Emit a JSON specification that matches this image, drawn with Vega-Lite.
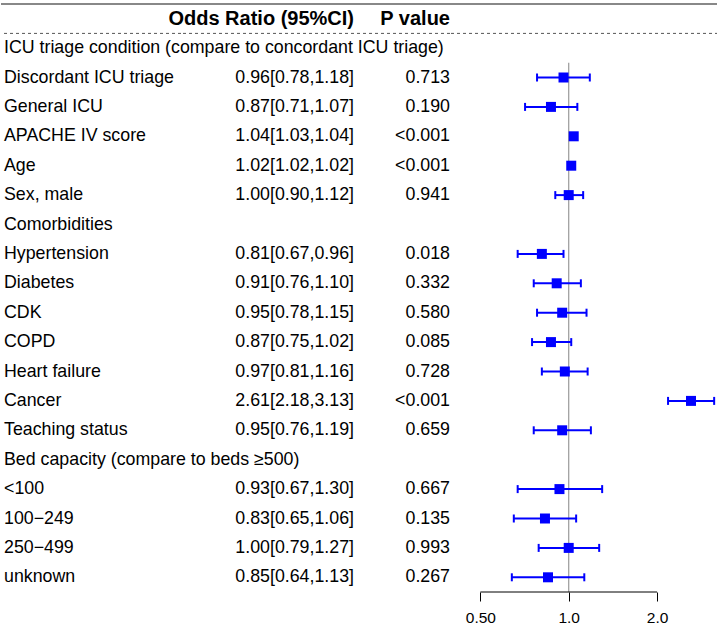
{
  "$schema": "https://vega.github.io/schema/vega-lite/v6.json",
  "padding": {"left": 0, "top": 3, "right": 0, "bottom": 0},
  "spacing": 0,
  "bounds": "flush",
  "config": {
    "view": {"stroke": null},
    "font": "Liberation Sans",
    "axisX": {"domain": false, "grid": false, "ticks": true, "tickSize": 9, "tickColor": "black", "tickWidth": 1, "labelFontSize": 15.5, "labelFont": "Liberation Sans", "labelColor": "black", "labelPadding": 9, "labelFlush": false, "labelExpr": "datum.value == 0.5 ? '0.50' : format(datum.value, '.1f')"}
  },
  "datasets": {
    "rows": [
      {"label": "ICU triage condition (compare to concordant ICU triage)", "or": null, "lo": null, "hi": null, "ci": "", "p": ""},
      {"label": "Discordant ICU triage", "or": 0.96, "lo": 0.78, "hi": 1.18, "ci": "0.96[0.78,1.18]", "p": "0.713"},
      {"label": "General ICU", "or": 0.87, "lo": 0.71, "hi": 1.07, "ci": "0.87[0.71,1.07]", "p": "0.190"},
      {"label": "APACHE IV score", "or": 1.04, "lo": 1.03, "hi": 1.04, "ci": "1.04[1.03,1.04]", "p": "<0.001"},
      {"label": "Age", "or": 1.02, "lo": 1.02, "hi": 1.02, "ci": "1.02[1.02,1.02]", "p": "<0.001"},
      {"label": "Sex, male", "or": 1.00, "lo": 0.90, "hi": 1.12, "ci": "1.00[0.90,1.12]", "p": "0.941"},
      {"label": "Comorbidities", "or": null, "lo": null, "hi": null, "ci": "", "p": ""},
      {"label": "Hypertension", "or": 0.81, "lo": 0.67, "hi": 0.96, "ci": "0.81[0.67,0.96]", "p": "0.018"},
      {"label": "Diabetes", "or": 0.91, "lo": 0.76, "hi": 1.10, "ci": "0.91[0.76,1.10]", "p": "0.332"},
      {"label": "CDK", "or": 0.95, "lo": 0.78, "hi": 1.15, "ci": "0.95[0.78,1.15]", "p": "0.580"},
      {"label": "COPD", "or": 0.87, "lo": 0.75, "hi": 1.02, "ci": "0.87[0.75,1.02]", "p": "0.085"},
      {"label": "Heart failure", "or": 0.97, "lo": 0.81, "hi": 1.16, "ci": "0.97[0.81,1.16]", "p": "0.728"},
      {"label": "Cancer", "or": 2.61, "lo": 2.18, "hi": 3.13, "ci": "2.61[2.18,3.13]", "p": "<0.001"},
      {"label": "Teaching status", "or": 0.95, "lo": 0.76, "hi": 1.19, "ci": "0.95[0.76,1.19]", "p": "0.659"},
      {"label": "Bed capacity (compare to beds ≥500)", "or": null, "lo": null, "hi": null, "ci": "", "p": ""},
      {"label": "<100", "or": 0.93, "lo": 0.67, "hi": 1.30, "ci": "0.93[0.67,1.30]", "p": "0.667"},
      {"label": "100−249", "or": 0.83, "lo": 0.65, "hi": 1.06, "ci": "0.83[0.65,1.06]", "p": "0.135"},
      {"label": "250−499", "or": 1.00, "lo": 0.79, "hi": 1.27, "ci": "1.00[0.79,1.27]", "p": "0.993"},
      {"label": "unknown", "or": 0.85, "lo": 0.64, "hi": 1.13, "ci": "0.85[0.64,1.13]", "p": "0.267"}
    ]
  },
  "data": {"name": "rows"},
  "hconcat": [
    {
      "width": 180, "height": 588,
      "layer": [
        {"data": {"values": [{}]}, "mark": {"type": "rule", "color": "#888888", "strokeWidth": 2},
         "encoding": {"y": {"datum": "header", "bandPosition": 0, "type": "nominal", "scale": {"type": "band", "domain": ["header", "ICU triage condition (compare to concordant ICU triage)", "Discordant ICU triage", "General ICU", "APACHE IV score", "Age", "Sex, male", "Comorbidities", "Hypertension", "Diabetes", "CDK", "COPD", "Heart failure", "Cancer", "Teaching status", "Bed capacity (compare to beds ≥500)", "<100", "100−249", "250−499", "unknown"], "paddingInner": 0, "paddingOuter": 0}, "axis": null}}},
        {"data": {"values": [{}]}, "mark": {"type": "rule", "color": "#555555", "strokeWidth": 1, "strokeDash": [3, 3]},
         "encoding": {"y": {"datum": "header", "bandPosition": 1, "type": "nominal", "scale": {"type": "band", "domain": ["header", "ICU triage condition (compare to concordant ICU triage)", "Discordant ICU triage", "General ICU", "APACHE IV score", "Age", "Sex, male", "Comorbidities", "Hypertension", "Diabetes", "CDK", "COPD", "Heart failure", "Cancer", "Teaching status", "Bed capacity (compare to beds ≥500)", "<100", "100−249", "250−499", "unknown"], "paddingInner": 0, "paddingOuter": 0}, "axis": null}}},
        {"mark": {"type": "text", "align": "left", "baseline": "middle", "fontSize": 17.8, "font": "Liberation Sans", "color": "black", "dx": 3},
         "encoding": {"x": {"value": 0}, "y": {"field": "label", "type": "nominal", "scale": {"type": "band", "domain": ["header", "ICU triage condition (compare to concordant ICU triage)", "Discordant ICU triage", "General ICU", "APACHE IV score", "Age", "Sex, male", "Comorbidities", "Hypertension", "Diabetes", "CDK", "COPD", "Heart failure", "Cancer", "Teaching status", "Bed capacity (compare to beds ≥500)", "<100", "100−249", "250−499", "unknown"], "paddingInner": 0, "paddingOuter": 0}, "axis": null}, "text": {"field": "label"}}}
      ]
    },
    {
      "width": 173, "height": 588,
      "layer": [
        {"data": {"values": [{}]}, "mark": {"type": "rule", "color": "#888888", "strokeWidth": 2},
         "encoding": {"y": {"datum": "header", "bandPosition": 0, "type": "nominal", "scale": {"type": "band", "domain": ["header", "ICU triage condition (compare to concordant ICU triage)", "Discordant ICU triage", "General ICU", "APACHE IV score", "Age", "Sex, male", "Comorbidities", "Hypertension", "Diabetes", "CDK", "COPD", "Heart failure", "Cancer", "Teaching status", "Bed capacity (compare to beds ≥500)", "<100", "100−249", "250−499", "unknown"], "paddingInner": 0, "paddingOuter": 0}, "axis": null}}},
        {"data": {"values": [{}]}, "mark": {"type": "rule", "color": "#555555", "strokeWidth": 1, "strokeDash": [3, 3]},
         "encoding": {"y": {"datum": "header", "bandPosition": 1, "type": "nominal", "scale": {"type": "band", "domain": ["header", "ICU triage condition (compare to concordant ICU triage)", "Discordant ICU triage", "General ICU", "APACHE IV score", "Age", "Sex, male", "Comorbidities", "Hypertension", "Diabetes", "CDK", "COPD", "Heart failure", "Cancer", "Teaching status", "Bed capacity (compare to beds ≥500)", "<100", "100−249", "250−499", "unknown"], "paddingInner": 0, "paddingOuter": 0}, "axis": null}}},
        {"data": {"values": [{"t": "Odds Ratio (95%CI)"}]}, "mark": {"type": "text", "align": "right", "baseline": "middle", "fontSize": 20, "fontWeight": "bold", "font": "Liberation Sans", "color": "black"},
         "encoding": {"x": {"value": 173}, "y": {"datum": "header", "type": "nominal", "scale": {"type": "band", "domain": ["header", "ICU triage condition (compare to concordant ICU triage)", "Discordant ICU triage", "General ICU", "APACHE IV score", "Age", "Sex, male", "Comorbidities", "Hypertension", "Diabetes", "CDK", "COPD", "Heart failure", "Cancer", "Teaching status", "Bed capacity (compare to beds ≥500)", "<100", "100−249", "250−499", "unknown"], "paddingInner": 0, "paddingOuter": 0}, "axis": null}, "text": {"field": "t"}}},
        {"mark": {"type": "text", "align": "right", "baseline": "middle", "fontSize": 17.8, "font": "Liberation Sans", "color": "black"},
         "encoding": {"x": {"value": 173}, "y": {"field": "label", "type": "nominal", "scale": {"type": "band", "domain": ["header", "ICU triage condition (compare to concordant ICU triage)", "Discordant ICU triage", "General ICU", "APACHE IV score", "Age", "Sex, male", "Comorbidities", "Hypertension", "Diabetes", "CDK", "COPD", "Heart failure", "Cancer", "Teaching status", "Bed capacity (compare to beds ≥500)", "<100", "100−249", "250−499", "unknown"], "paddingInner": 0, "paddingOuter": 0}, "axis": null}, "text": {"field": "ci"}}}
      ]
    },
    {
      "width": 96, "height": 588,
      "layer": [
        {"data": {"values": [{}]}, "mark": {"type": "rule", "color": "#888888", "strokeWidth": 2},
         "encoding": {"y": {"datum": "header", "bandPosition": 0, "type": "nominal", "scale": {"type": "band", "domain": ["header", "ICU triage condition (compare to concordant ICU triage)", "Discordant ICU triage", "General ICU", "APACHE IV score", "Age", "Sex, male", "Comorbidities", "Hypertension", "Diabetes", "CDK", "COPD", "Heart failure", "Cancer", "Teaching status", "Bed capacity (compare to beds ≥500)", "<100", "100−249", "250−499", "unknown"], "paddingInner": 0, "paddingOuter": 0}, "axis": null}}},
        {"data": {"values": [{}]}, "mark": {"type": "rule", "color": "#555555", "strokeWidth": 1, "strokeDash": [3, 3]},
         "encoding": {"y": {"datum": "header", "bandPosition": 1, "type": "nominal", "scale": {"type": "band", "domain": ["header", "ICU triage condition (compare to concordant ICU triage)", "Discordant ICU triage", "General ICU", "APACHE IV score", "Age", "Sex, male", "Comorbidities", "Hypertension", "Diabetes", "CDK", "COPD", "Heart failure", "Cancer", "Teaching status", "Bed capacity (compare to beds ≥500)", "<100", "100−249", "250−499", "unknown"], "paddingInner": 0, "paddingOuter": 0}, "axis": null}}},
        {"data": {"values": [{"t": "P value"}]}, "mark": {"type": "text", "align": "right", "baseline": "middle", "fontSize": 20, "fontWeight": "bold", "font": "Liberation Sans", "color": "black"},
         "encoding": {"x": {"value": 96}, "y": {"datum": "header", "type": "nominal", "scale": {"type": "band", "domain": ["header", "ICU triage condition (compare to concordant ICU triage)", "Discordant ICU triage", "General ICU", "APACHE IV score", "Age", "Sex, male", "Comorbidities", "Hypertension", "Diabetes", "CDK", "COPD", "Heart failure", "Cancer", "Teaching status", "Bed capacity (compare to beds ≥500)", "<100", "100−249", "250−499", "unknown"], "paddingInner": 0, "paddingOuter": 0}, "axis": null}, "text": {"field": "t"}}},
        {"mark": {"type": "text", "align": "right", "baseline": "middle", "fontSize": 17.8, "font": "Liberation Sans", "color": "black"},
         "encoding": {"x": {"value": 96}, "y": {"field": "label", "type": "nominal", "scale": {"type": "band", "domain": ["header", "ICU triage condition (compare to concordant ICU triage)", "Discordant ICU triage", "General ICU", "APACHE IV score", "Age", "Sex, male", "Comorbidities", "Hypertension", "Diabetes", "CDK", "COPD", "Heart failure", "Cancer", "Teaching status", "Bed capacity (compare to beds ≥500)", "<100", "100−249", "250−499", "unknown"], "paddingInner": 0, "paddingOuter": 0}, "axis": null}, "text": {"field": "p"}}}
      ]
    },
    {
      "width": 268, "height": 588,
      "layer": [
        {"data": {"values": [{}]}, "mark": {"type": "rule", "color": "#888888", "strokeWidth": 2},
         "encoding": {"y": {"datum": "header", "bandPosition": 0, "type": "nominal", "scale": {"type": "band", "domain": ["header", "ICU triage condition (compare to concordant ICU triage)", "Discordant ICU triage", "General ICU", "APACHE IV score", "Age", "Sex, male", "Comorbidities", "Hypertension", "Diabetes", "CDK", "COPD", "Heart failure", "Cancer", "Teaching status", "Bed capacity (compare to beds ≥500)", "<100", "100−249", "250−499", "unknown"], "paddingInner": 0, "paddingOuter": 0}, "axis": null}}},
        {"data": {"values": [{}]}, "mark": {"type": "rule", "color": "#555555", "strokeWidth": 1, "strokeDash": [3, 3]},
         "encoding": {"y": {"datum": "header", "bandPosition": 1, "type": "nominal", "scale": {"type": "band", "domain": ["header", "ICU triage condition (compare to concordant ICU triage)", "Discordant ICU triage", "General ICU", "APACHE IV score", "Age", "Sex, male", "Comorbidities", "Hypertension", "Diabetes", "CDK", "COPD", "Heart failure", "Cancer", "Teaching status", "Bed capacity (compare to beds ≥500)", "<100", "100−249", "250−499", "unknown"], "paddingInner": 0, "paddingOuter": 0}, "axis": null}}},
        {"data": {"values": [{}]}, "mark": {"type": "rule", "color": "#999999", "strokeWidth": 1.2},
         "encoding": {
           "x": {"datum": 1, "type": "quantitative", "scale": {"type": "log", "domain": [0.394, 3.226], "nice": false}, "axis": {"values": [0.5, 1, 2], "title": null}},
           "y": {"datum": "Discordant ICU triage", "bandPosition": 0, "type": "nominal", "scale": {"type": "band", "domain": ["header", "ICU triage condition (compare to concordant ICU triage)", "Discordant ICU triage", "General ICU", "APACHE IV score", "Age", "Sex, male", "Comorbidities", "Hypertension", "Diabetes", "CDK", "COPD", "Heart failure", "Cancer", "Teaching status", "Bed capacity (compare to beds ≥500)", "<100", "100−249", "250−499", "unknown"], "paddingInner": 0, "paddingOuter": 0}, "axis": null},
           "y2": {"datum": "unknown", "bandPosition": 1}
         }},
        {"data": {"values": [{}]}, "mark": {"type": "rule", "color": "black", "strokeWidth": 1},
         "encoding": {
           "x": {"datum": 0.5, "type": "quantitative", "scale": {"type": "log", "domain": [0.394, 3.226], "nice": false}, "axis": {"values": [0.5, 1, 2], "title": null}},
           "x2": {"datum": 2},
           "y": {"datum": "unknown", "bandPosition": 1, "type": "nominal", "scale": {"type": "band", "domain": ["header", "ICU triage condition (compare to concordant ICU triage)", "Discordant ICU triage", "General ICU", "APACHE IV score", "Age", "Sex, male", "Comorbidities", "Hypertension", "Diabetes", "CDK", "COPD", "Heart failure", "Cancer", "Teaching status", "Bed capacity (compare to beds ≥500)", "<100", "100−249", "250−499", "unknown"], "paddingInner": 0, "paddingOuter": 0}, "axis": null}
         }},
        {"transform": [{"filter": "datum.or != null"}],
         "mark": {"type": "rule", "color": "#0000FF", "strokeWidth": 2},
         "encoding": {
           "x": {"field": "lo", "type": "quantitative", "scale": {"type": "log", "domain": [0.394, 3.226], "nice": false}, "axis": {"values": [0.5, 1, 2], "title": null}},
           "x2": {"field": "hi"},
           "y": {"field": "label", "type": "nominal", "scale": {"type": "band", "domain": ["header", "ICU triage condition (compare to concordant ICU triage)", "Discordant ICU triage", "General ICU", "APACHE IV score", "Age", "Sex, male", "Comorbidities", "Hypertension", "Diabetes", "CDK", "COPD", "Heart failure", "Cancer", "Teaching status", "Bed capacity (compare to beds ≥500)", "<100", "100−249", "250−499", "unknown"], "paddingInner": 0, "paddingOuter": 0}, "axis": null}
         }},
        {"transform": [{"filter": "datum.or != null"}],
         "mark": {"type": "tick", "orient": "vertical", "color": "#0000FF", "size": 8, "thickness": 2, "opacity": 1},
         "encoding": {
           "x": {"field": "lo", "type": "quantitative", "scale": {"type": "log", "domain": [0.394, 3.226], "nice": false}, "axis": {"values": [0.5, 1, 2], "title": null}},
           "y": {"field": "label", "type": "nominal", "scale": {"type": "band", "domain": ["header", "ICU triage condition (compare to concordant ICU triage)", "Discordant ICU triage", "General ICU", "APACHE IV score", "Age", "Sex, male", "Comorbidities", "Hypertension", "Diabetes", "CDK", "COPD", "Heart failure", "Cancer", "Teaching status", "Bed capacity (compare to beds ≥500)", "<100", "100−249", "250−499", "unknown"], "paddingInner": 0, "paddingOuter": 0}, "axis": null}
         }},
        {"transform": [{"filter": "datum.or != null"}],
         "mark": {"type": "tick", "orient": "vertical", "color": "#0000FF", "size": 8, "thickness": 2, "opacity": 1},
         "encoding": {
           "x": {"field": "hi", "type": "quantitative", "scale": {"type": "log", "domain": [0.394, 3.226], "nice": false}, "axis": {"values": [0.5, 1, 2], "title": null}},
           "y": {"field": "label", "type": "nominal", "scale": {"type": "band", "domain": ["header", "ICU triage condition (compare to concordant ICU triage)", "Discordant ICU triage", "General ICU", "APACHE IV score", "Age", "Sex, male", "Comorbidities", "Hypertension", "Diabetes", "CDK", "COPD", "Heart failure", "Cancer", "Teaching status", "Bed capacity (compare to beds ≥500)", "<100", "100−249", "250−499", "unknown"], "paddingInner": 0, "paddingOuter": 0}, "axis": null}
         }},
        {"transform": [{"filter": "datum.or != null"}],
         "mark": {"type": "square", "color": "#0000FF", "size": 100, "opacity": 1, "filled": true},
         "encoding": {
           "x": {"field": "or", "type": "quantitative", "scale": {"type": "log", "domain": [0.394, 3.226], "nice": false}, "axis": {"values": [0.5, 1, 2], "title": null}},
           "y": {"field": "label", "type": "nominal", "scale": {"type": "band", "domain": ["header", "ICU triage condition (compare to concordant ICU triage)", "Discordant ICU triage", "General ICU", "APACHE IV score", "Age", "Sex, male", "Comorbidities", "Hypertension", "Diabetes", "CDK", "COPD", "Heart failure", "Cancer", "Teaching status", "Bed capacity (compare to beds ≥500)", "<100", "100−249", "250−499", "unknown"], "paddingInner": 0, "paddingOuter": 0}, "axis": null}
         }}
      ]
    }
  ]
}
